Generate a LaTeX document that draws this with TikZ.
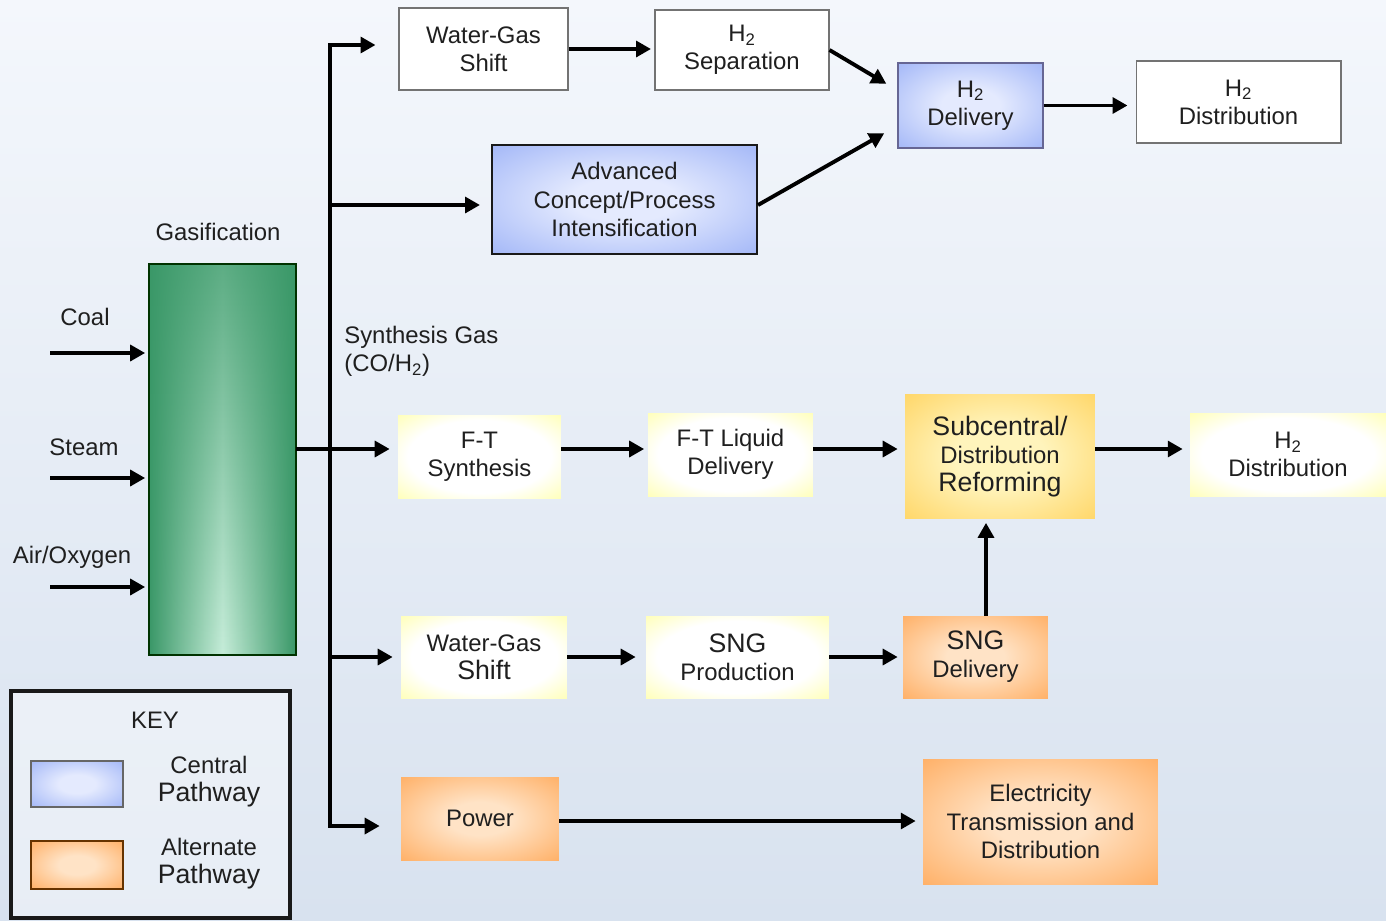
\documentclass[tikz,border=0pt]{standalone}
\usepackage{fontspec}
\setmainfont{Liberation Sans}
\usetikzlibrary{arrows.meta}
\usetikzlibrary{shapes}
\usetikzlibrary{fadings}

\definecolor{bgtop}{HTML}{F4F7FC}
\definecolor{bgbot}{HTML}{D8E2EF}
\definecolor{blueout}{HTML}{8CA5F5}
\definecolor{bluein}{HTML}{E4EAFE}
\definecolor{yellowout}{HTML}{FFFF80}
\definecolor{goldout}{HTML}{FFCB48}
\definecolor{goldin}{HTML}{FFF4BC}
\definecolor{orangeout}{HTML}{FF9E45}
\definecolor{orangein}{HTML}{FFE3C6}
\definecolor{gasout}{HTML}{3A9868}
\definecolor{gasin}{HTML}{C6EDD9}

\pgfdeclareradialshading{yglow}{\pgfpoint{0bp}{0bp}}{color(0bp)=(white); color(22bp)=(white); color(47bp)=(yellowout); color(100bp)=(yellowout)}
\pgfdeclareradialshading{bglow}{\pgfpoint{0bp}{0bp}}{color(0bp)=(bluein); color(10bp)=(bluein); color(45bp)=(blueout); color(100bp)=(blueout)}
\pgfdeclareradialshading{gglow}{\pgfpoint{0bp}{0bp}}{color(0bp)=(goldin); color(12bp)=(goldin); color(45bp)=(goldout); color(100bp)=(goldout)}
\pgfdeclareradialshading{oglow}{\pgfpoint{0bp}{0bp}}{color(0bp)=(orangein); color(10bp)=(orangein); color(45bp)=(orangeout); color(100bp)=(orangeout)}

\newcommand{\nsize}{\fontsize{13.6}{16}\selectfont}
\newcommand{\bsize}{\fontsize{15.2}{17.5}\selectfont}

\begin{document}
\begin{tikzpicture}[x=0.02cm, y=-0.02cm]
\tikzset{
   >={Triangle[length=8.5pt, width=9pt]},
   box/.style = {rectangle, align = center, inner sep = 0pt, font = \nsize, text = black!88},
   plain/.style = {box, draw = black!55, line width = 0.6pt, fill = white},
   central/.style = {box, draw = black!75, line width = 0.8pt, shading = bglow},
   yellowbox/.style = {box, shading = yglow},
   goldbox/.style = {box, shading = gglow},
   altern/.style = {box, shading = oglow},
   label/.style = {font = \nsize, text = black!88, inner sep = 0pt},
   flow/.style = {->, line width = 2.2pt, shorten >= 2pt}
}
\path[use as bounding box, top color = bgtop, bottom color = bgbot] (0,0) rectangle (1386,920);

% gasifier and feeds
\node[box, left color = gasout, right color = gasout, middle color = gasin,
      postaction = {fill = gasout, fill opacity = 0.75, path fading = south},
      postaction = {draw = black!80!green, line width = 0.8pt},
      minimum width = 2.94cm, minimum height = 7.82cm] (gas) at (222.5,459.5) {};
\node[label] (gaslbl) at (218,232) {Gasification};
\node[label] (coal) at (85,317) {Coal};
\node[label] (steam) at (84,447) {Steam};
\node[label] (air) at (72,557) {Air/Oxygen};
\coordinate (coalin) at (50,353);
\coordinate (steamin) at (50,478);
\coordinate (airin) at (50,587);
\draw[flow] (coalin) -- (coalin -| gas.west);
\draw[flow] (steamin) -- (steamin -| gas.west);
\draw[flow] (airin) -- (airin -| gas.west);

\node[label, anchor = west, align = left] (syn) at (344,351) {Synthesis Gas\\(CO/H\textsubscript{2})};

% central pathway
\node[plain, minimum width = 3.38cm, minimum height = 1.64cm] (wgsA) at (483.5,49) {Water-Gas\\Shift};
\node[plain, minimum width = 3.48cm, minimum height = 1.6cm] (sep) at (742,50) {H\textsubscript{2}\\Separation};
\node[central, draw = blue!30!black!60, minimum width = 2.9cm, minimum height = 1.7cm] (dlv) at (970.5,105.5) {H\textsubscript{2}\\Delivery};
\node[plain, minimum width = 4.1cm, minimum height = 1.64cm] (distA) at (1238.5,102) {H\textsubscript{2}\\Distribution};
\node[central, draw = black!90, line width = 1.2pt, minimum width = 5.3cm, minimum height = 2.18cm] (adv) at (624.5,199.5)
      {Advanced\\Concept/Process\\Intensification};

% alternate pathways
\node[yellowbox, minimum width = 3.26cm, minimum height = 1.66cm] (ft) at (479.5,456.5) {F-T\\Synthesis};
\node[yellowbox, minimum width = 3.3cm, minimum height = 1.66cm] (ftl) at (730.5,454.5) {F-T Liquid\\Delivery};
\node[goldbox, minimum width = 3.8cm, minimum height = 2.5cm] (ref) at (1000,456.5)
      {{\bsize Subcentral/}\\Distribution\\{\bsize Reforming}};
\node[yellowbox, minimum width = 3.92cm, minimum height = 1.66cm] (distB) at (1288,454.5) {H\textsubscript{2}\\Distribution};
\node[yellowbox, minimum width = 3.32cm, minimum height = 1.64cm] (wgsB) at (484,657) {Water-Gas\\{\bsize Shift}};
\node[yellowbox, minimum width = 3.66cm, minimum height = 1.64cm] (sngp) at (737.5,657) {{\bsize SNG}\\Production};
\node[altern, minimum width = 2.9cm, minimum height = 1.64cm] (sngd) at (975.5,657) {{\bsize SNG}\\Delivery};
\node[altern, minimum width = 3.16cm, minimum height = 1.66cm] (pow) at (480,818.5) {Power};
\node[altern, minimum width = 4.7cm, minimum height = 2.5cm] (elec) at (1040.5,821.5)
      {Electricity\\Transmission and\\Distribution};

% syngas header
\coordinate (top) at (330,45);
\coordinate (bot) at (330,826);
\coordinate (ftrow) at (330,449);
\draw[flow, shorten >= 0.46cm] (bot) -- (top) -- (top -| wgsA.west);
\draw[flow, shorten >= 0.42cm] (top) -- (bot) -- (bot -| pow.west);
\draw[flow, shorten >= 0.22cm] ([yshift = -0.11cm]top |- adv.west) -- ([yshift = -0.11cm]adv.west);
\draw[flow, shorten >= 0.16cm] (ftrow -| gas.east) -- (ftrow -| ft.west);
\draw[flow, shorten >= 0.16cm] (top |- wgsB.west) -- (wgsB.west);

% connectors
\draw[flow] (wgsA.east) -- (wgsA.east -| sep.west);
\draw[flow] (sep.east) -- ([xshift = -0.16cm, yshift = 0.4cm]dlv.west);
\draw[flow] ([yshift = -0.11cm]adv.east) -- ([xshift = -0.2cm, yshift = -0.52cm]dlv.west);
\draw[flow, shorten >= 0.16cm] (dlv.east) -- (dlv.east -| distA.west);
\draw[flow] (ftrow -| ft.east) -- (ftrow -| ftl.west);
\draw[flow, shorten >= 0.14cm] (ftrow -| ftl.east) -- (ftrow -| ref.west);
\draw[flow, shorten >= 0.14cm] (ftrow -| ref.east) -- (ftrow -| distB.west);
\draw[flow, shorten >= 0.2cm] (wgsB.east) -- (wgsB.east -| sngp.west);
\draw[flow, shorten >= 0.1cm] (sngp.east) -- (sngp.east -| sngd.west);
\draw[flow] ([xshift = 0.21cm]sngd.north) -- ([xshift = 0.21cm]sngd.north |- ref.south);
\draw[flow, shorten >= 0.14cm] ([yshift = -0.05cm]pow.east) -- ([yshift = -0.05cm]pow.east -| elec.west);

% key
\node[box, draw = black!90, line width = 2.2pt, fill = white, fill opacity = 0.4,
      minimum width = 5.58cm, minimum height = 4.54cm] (key) at (150.5,804.5) {};
\node[label] (keylbl) at (155,720) {KEY};
\node[central, draw = black!60, minimum width = 1.84cm, minimum height = 0.92cm] (keyc) at (77,784) {};
\node[altern, draw = black!60!orange, line width = 0.8pt, minimum width = 1.84cm, minimum height = 0.96cm] (keya) at (77,865) {};
\node[label, align = center] (keyctxt) at (209,782) {Central\\{\bsize Pathway}};
\node[label, align = center] (keyatxt) at (209,864) {Alternate\\{\bsize Pathway}};

\end{tikzpicture}
\end{document}
